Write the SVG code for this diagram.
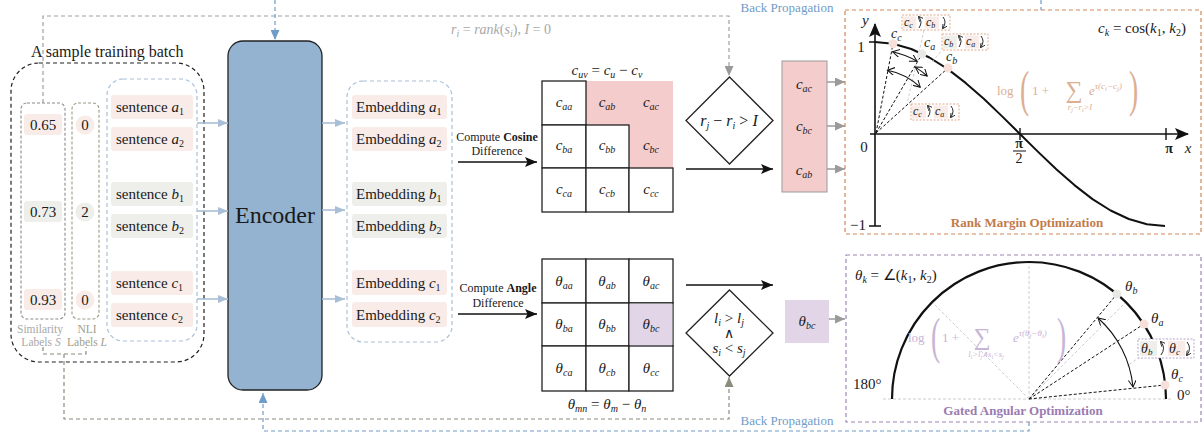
<svg xmlns="http://www.w3.org/2000/svg" width="1203" height="432" viewBox="0 0 1203 432">
<style>
text{font-family:"Liberation Serif","Times New Roman",serif;fill:#1a1a1a}
.i{font-style:italic}
.sb{font-size:10px}
.f15{font-size:15px}
.f14{font-size:14px}
.f12{font-size:12px}
.bgp{fill:#f9ece8}
.bgg{fill:#eeefea}
.cell{fill:#fff;stroke:#222;stroke-width:1.3}
.dashbox{fill:none;stroke-dasharray:4 3;stroke-width:1.2}
.encA{stroke:#a9bfd5;stroke-width:1.6;fill:none;marker-end:url(#aBlue)}
.blk{stroke:#111;stroke-width:1.5;fill:none;marker-end:url(#aBlk)}
.gry{stroke:#9a9a9a;stroke-width:1.5;fill:none;marker-end:url(#aGry)}
.lbox{fill:#fff;stroke:#d9956a;stroke-width:0.8;stroke-dasharray:2 1.5}
.lboxp{fill:#fff;stroke:#a58fbd;stroke-width:0.8;stroke-dasharray:2 1.5}
.cur{fill:none;stroke:#111;stroke-width:0.9;marker-end:url(#sm)}
.faint{fill:none;stroke:#c8c8c8;stroke-width:0.9;stroke-dasharray:3 2}
.rad{fill:none;stroke:#111;stroke-width:1;stroke-dasharray:3 2}
.dbl{fill:none;stroke:#111;stroke-width:1.1;marker-start:url(#op);marker-end:url(#op)}
.or{fill:#dcae92}
.pu{fill:#c8b5d6}
.gy{fill:#a8a8a8}
</style>
<defs>
<marker id="aBlue" markerWidth="10" markerHeight="8" refX="10" refY="4" orient="auto" markerUnits="userSpaceOnUse"><path d="M0,0 L10,4 L0,8 Z" fill="#a9bfd5"/></marker>
<marker id="aBlk" markerWidth="12" markerHeight="10" refX="12" refY="5" orient="auto" markerUnits="userSpaceOnUse"><path d="M0,0 L12,5 L0,10 L2.5,5 Z" fill="#111"/></marker>
<marker id="aGry" markerWidth="10" markerHeight="9" refX="10" refY="4.5" orient="auto" markerUnits="userSpaceOnUse"><path d="M0,0 L10,4.5 L0,9 Z" fill="#9a9a9a"/></marker>
<marker id="aOl" markerWidth="10" markerHeight="9" refX="10" refY="4.5" orient="auto" markerUnits="userSpaceOnUse"><path d="M0,0 L10,4.5 L0,9 Z" fill="#8c8c7e"/></marker>
<marker id="aDB" markerWidth="10" markerHeight="9" refX="10" refY="4.5" orient="auto" markerUnits="userSpaceOnUse"><path d="M0,0 L10,4.5 L0,9 Z" fill="#6f9cc8"/></marker>
<marker id="aAx" markerWidth="14" markerHeight="12" refX="13" refY="6" orient="auto" markerUnits="userSpaceOnUse"><path d="M0,0 L14,6 L0,12 L3,6 Z" fill="#111"/></marker>
<marker id="sm" markerWidth="5" markerHeight="5" refX="4" refY="2.5" orient="auto" markerUnits="userSpaceOnUse"><path d="M0,0 L5,2.5 L0,5" fill="none" stroke="#111" stroke-width="0.8"/></marker>
<marker id="op" markerWidth="8" markerHeight="8" refX="7" refY="4" orient="auto-start-reverse" markerUnits="userSpaceOnUse"><path d="M0,0 L7,4 L0,8" fill="none" stroke="#111" stroke-width="1"/></marker>
</defs>

<g id="batch">
<text x="31" y="57" style="font-size:16px">A sample training batch</text>
<rect x="11" y="63" width="193" height="299" rx="28" class="dashbox" stroke="#222"/>
</g>

<g id="similarity-labels">
<rect x="21" y="103" width="44" height="216" rx="6" fill="none" stroke="#8a8a8a" stroke-width="1.1" stroke-dasharray="3 2"/>
<rect x="24" y="114" width="38" height="21" rx="3" class="bgp"/>
<text x="43" y="130" class="f15" text-anchor="middle">0.65</text>
<rect x="24" y="201" width="38" height="21" rx="3" class="bgg"/>
<text x="43" y="217" class="f15" text-anchor="middle">0.73</text>
<rect x="24" y="289" width="38" height="21" rx="3" class="bgp"/>
<text x="43" y="305" class="f15" text-anchor="middle">0.93</text>
<text x="40" y="333" text-anchor="middle" class="gy" style="font-size:11.5px">Similarity</text>
<text x="41" y="346" text-anchor="middle" class="gy" style="font-size:11.5px">Labels <tspan class="i gy">S</tspan></text>
</g>

<g id="nli-labels">
<rect x="72" y="103" width="27" height="216" rx="6" fill="none" stroke="#9a9a82" stroke-width="1.1" stroke-dasharray="3 2"/>
<circle cx="85" cy="125" r="9.5" class="bgp"/>
<text x="85" y="130" class="f15" text-anchor="middle">0</text>
<circle cx="85" cy="212" r="9.5" class="bgg"/>
<text x="85" y="217" class="f15" text-anchor="middle">2</text>
<circle cx="85" cy="300" r="9.5" class="bgp"/>
<text x="85" y="305" class="f15" text-anchor="middle">0</text>
<text x="87" y="333" text-anchor="middle" style="font-size:11.5px;fill:#a0a08a">NLI</text>
<text x="87" y="346" text-anchor="middle" style="font-size:11.5px;fill:#a0a08a">Labels <tspan class="i" style="fill:#a0a08a">L</tspan></text>
</g>

<g id="sentences">
<rect x="107" y="79" width="90" height="262" rx="16" class="dashbox" stroke="#a9c0d8"/>
<rect x="111" y="95" width="82" height="24" rx="3" class="bgp"/>
<text x="116" y="112" class="f15">sentence <tspan class="i">a</tspan><tspan class="sb" dy="3">1</tspan></text>
<rect x="111" y="127" width="82" height="24" rx="3" class="bgp"/>
<text x="116" y="144" class="f15">sentence <tspan class="i">a</tspan><tspan class="sb" dy="3">2</tspan></text>
<rect x="111" y="182" width="82" height="24" rx="3" class="bgg"/>
<text x="116" y="199" class="f15">sentence <tspan class="i">b</tspan><tspan class="sb" dy="3">1</tspan></text>
<rect x="111" y="214" width="82" height="24" rx="3" class="bgg"/>
<text x="116" y="231" class="f15">sentence <tspan class="i">b</tspan><tspan class="sb" dy="3">2</tspan></text>
<rect x="111" y="271" width="82" height="24" rx="3" class="bgp"/>
<text x="116" y="288" class="f15">sentence <tspan class="i">c</tspan><tspan class="sb" dy="3">1</tspan></text>
<rect x="111" y="303" width="82" height="24" rx="3" class="bgp"/>
<text x="116" y="320" class="f15">sentence <tspan class="i">c</tspan><tspan class="sb" dy="3">2</tspan></text>
</g>

<g id="encoder">
<rect x="228" y="41" width="94" height="349" rx="15" fill="#93b3d1" stroke="#222" stroke-width="1.3"/>
<text x="275" y="223" text-anchor="middle" style="font-size:24px">Encoder</text>
</g>

<g id="embeddings">
<rect x="347" y="81" width="105" height="261" rx="16" class="dashbox" stroke="#a9c0d8"/>
<rect x="352" y="95" width="95" height="24" rx="3" class="bgp"/>
<text x="356" y="112" class="f15">Embedding <tspan class="i">a</tspan><tspan class="sb" dy="3">1</tspan></text>
<rect x="352" y="127" width="95" height="24" rx="3" class="bgp"/>
<text x="356" y="144" class="f15">Embedding <tspan class="i">a</tspan><tspan class="sb" dy="3">2</tspan></text>
<rect x="352" y="182" width="95" height="24" rx="3" class="bgg"/>
<text x="356" y="199" class="f15">Embedding <tspan class="i">b</tspan><tspan class="sb" dy="3">1</tspan></text>
<rect x="352" y="214" width="95" height="24" rx="3" class="bgg"/>
<text x="356" y="231" class="f15">Embedding <tspan class="i">b</tspan><tspan class="sb" dy="3">2</tspan></text>
<rect x="352" y="270" width="95" height="25" rx="3" class="bgp"/>
<text x="356" y="288" class="f15">Embedding <tspan class="i">c</tspan><tspan class="sb" dy="3">1</tspan></text>
<rect x="352" y="302" width="95" height="25" rx="3" class="bgp"/>
<text x="356" y="320" class="f15">Embedding <tspan class="i">c</tspan><tspan class="sb" dy="3">2</tspan></text>
</g>

<g id="cosine-label">
<text x="497" y="141" text-anchor="middle" class="f12">Compute <tspan font-weight="bold">Cosine</tspan></text>
<text x="497" y="155" text-anchor="middle" class="f12">Difference</text>
</g>

<g id="angle-label">
<text x="498" y="292" text-anchor="middle" class="f12">Compute <tspan font-weight="bold">Angle</tspan></text>
<text x="498" y="307" text-anchor="middle" class="f12">Difference</text>
</g>

<g id="cosine-matrix">
<text x="607" y="75" text-anchor="middle" class="f15"><tspan class="i">c</tspan><tspan class="i sb" dy="3">uv</tspan><tspan dy="-3"> = </tspan><tspan class="i">c</tspan><tspan class="i sb" dy="3">u</tspan><tspan dy="-3"> − </tspan><tspan class="i">c</tspan><tspan class="i sb" dy="3">v</tspan></text>
<path d="M586,81 H673 V168 H629 V125 H586 Z" fill="#f4cccc"/>
<rect x="542" y="81" width="44" height="44" class="cell"/>
<rect x="542" y="125" width="44" height="43" class="cell"/>
<rect x="586" y="125" width="43" height="43" class="cell"/>
<rect x="542" y="168" width="44" height="44" class="cell"/>
<rect x="586" y="168" width="43" height="44" class="cell"/>
<rect x="629" y="168" width="44" height="44" class="cell"/>
<g text-anchor="middle">
<text x="564" y="107" class="f15"><tspan class="i">c</tspan><tspan class="i sb" dy="3">aa</tspan></text>
<text x="607" y="107" class="f15"><tspan class="i">c</tspan><tspan class="i sb" dy="3">ab</tspan></text>
<text x="651" y="107" class="f15"><tspan class="i">c</tspan><tspan class="i sb" dy="3">ac</tspan></text>
<text x="564" y="150" class="f15"><tspan class="i">c</tspan><tspan class="i sb" dy="3">ba</tspan></text>
<text x="607" y="150" class="f15"><tspan class="i">c</tspan><tspan class="i sb" dy="3">bb</tspan></text>
<text x="651" y="150" class="f15"><tspan class="i">c</tspan><tspan class="i sb" dy="3">bc</tspan></text>
<text x="564" y="194" class="f15"><tspan class="i">c</tspan><tspan class="i sb" dy="3">ca</tspan></text>
<text x="607" y="194" class="f15"><tspan class="i">c</tspan><tspan class="i sb" dy="3">cb</tspan></text>
<text x="651" y="194" class="f15"><tspan class="i">c</tspan><tspan class="i sb" dy="3">cc</tspan></text>
</g>
</g>

<g id="angle-matrix">
<rect x="542" y="259" width="44" height="44" class="cell"/>
<rect x="586" y="259" width="43" height="44" class="cell"/>
<rect x="629" y="259" width="44" height="44" class="cell"/>
<rect x="542" y="303" width="44" height="43" class="cell"/>
<rect x="586" y="303" width="43" height="43" class="cell"/>
<rect x="629" y="303" width="44" height="43" class="cell"/>
<rect x="542" y="346" width="44" height="45" class="cell"/>
<rect x="586" y="346" width="43" height="45" class="cell"/>
<rect x="629" y="346" width="44" height="45" class="cell"/>
<rect x="629.7" y="303.7" width="42.6" height="41.6" fill="#e1d5e7"/>
<g text-anchor="middle">
<text x="564" y="286" class="f15"><tspan class="i">θ</tspan><tspan class="i sb" dy="3">aa</tspan></text>
<text x="607" y="286" class="f15"><tspan class="i">θ</tspan><tspan class="i sb" dy="3">ab</tspan></text>
<text x="651" y="286" class="f15"><tspan class="i">θ</tspan><tspan class="i sb" dy="3">ac</tspan></text>
<text x="564" y="329" class="f15"><tspan class="i">θ</tspan><tspan class="i sb" dy="3">ba</tspan></text>
<text x="607" y="329" class="f15"><tspan class="i">θ</tspan><tspan class="i sb" dy="3">bb</tspan></text>
<text x="651" y="329" class="f15"><tspan class="i">θ</tspan><tspan class="i sb" dy="3">bc</tspan></text>
<text x="564" y="373" class="f15"><tspan class="i">θ</tspan><tspan class="i sb" dy="3">ca</tspan></text>
<text x="607" y="373" class="f15"><tspan class="i">θ</tspan><tspan class="i sb" dy="3">cb</tspan></text>
<text x="651" y="373" class="f15"><tspan class="i">θ</tspan><tspan class="i sb" dy="3">cc</tspan></text>
</g>
<text x="607" y="409" text-anchor="middle" class="f15"><tspan class="i">θ</tspan><tspan class="i sb" dy="3">mn</tspan><tspan dy="-3"> = </tspan><tspan class="i">θ</tspan><tspan class="i sb" dy="3">m</tspan><tspan dy="-3"> − </tspan><tspan class="i">θ</tspan><tspan class="i sb" dy="3">n</tspan></text>
</g>

<g id="rank-condition">
<path d="M729.5,77 L773,120.5 L729.5,164 L686,120.5 Z" fill="#fff" stroke="#222" stroke-width="1.3"/>
<text x="729" y="126" text-anchor="middle" style="font-size:16px"><tspan class="i">r</tspan><tspan class="i sb" dy="3">j</tspan><tspan dy="-3"> − </tspan><tspan class="i">r</tspan><tspan class="i sb" dy="3">i</tspan><tspan dy="-3"> &gt; </tspan><tspan class="i">I</tspan></text>
</g>

<g id="gate-condition">
<path d="M729.5,290 L773,333 L729.5,376 L686,333 Z" fill="#fff" stroke="#222" stroke-width="1.3"/>
<text x="729" y="323" text-anchor="middle" class="f15"><tspan class="i">l</tspan><tspan class="i sb" dy="3">i</tspan><tspan dy="-3"> &gt; </tspan><tspan class="i">l</tspan><tspan class="i sb" dy="3">j</tspan></text>
<text x="729" y="338" text-anchor="middle" class="f14">∧</text>
<text x="729" y="353" text-anchor="middle" class="f15"><tspan class="i">s</tspan><tspan class="i sb" dy="3">i</tspan><tspan dy="-3"> &lt; </tspan><tspan class="i">s</tspan><tspan class="i sb" dy="3">j</tspan></text>
</g>

<g id="selected-cosine">
<rect x="782" y="61" width="45" height="131" fill="#f4cccc" stroke="#9a9a9a" stroke-width="1"/>
<text x="804" y="89" text-anchor="middle" class="f15"><tspan class="i">c</tspan><tspan class="i sb" dy="3">ac</tspan></text>
<text x="804" y="131" text-anchor="middle" class="f15"><tspan class="i">c</tspan><tspan class="i sb" dy="3">bc</tspan></text>
<text x="804" y="175" text-anchor="middle" class="f15"><tspan class="i">c</tspan><tspan class="i sb" dy="3">ab</tspan></text>
</g>

<g id="selected-angle">
<rect x="785" y="300" width="44" height="43" fill="#e1d5e7"/>
<text x="807" y="326" text-anchor="middle" class="f15"><tspan class="i">θ</tspan><tspan class="i sb" dy="3">bc</tspan></text>
</g>

<g id="connectors">
<path class="encA" d="M197,123 H228"/>
<path class="encA" d="M197,211 H228"/>
<path class="encA" d="M197,299 H228"/>
<path class="encA" d="M322,123 H345"/>
<path class="encA" d="M322,210 H345"/>
<path class="encA" d="M322,299 H345"/>
<path class="blk" d="M458,162 H537"/>
<path class="blk" d="M458,314 H537"/>
<path class="blk" d="M686,169 H773"/>
<path class="blk" d="M686,285 H773"/>
<path class="gry" d="M827,82 H845"/>
<path class="gry" d="M827,126 H845"/>
<path class="gry" d="M827,169 H845"/>
<path class="gry" d="M829,319 H845"/>
<path d="M43,103 V16 H729 V76" fill="none" stroke="#a0a0a0" stroke-width="1.2" stroke-dasharray="4 3" marker-end="url(#aGry)"/>
<path d="M43,347 V354 H86 V347" fill="none" stroke="#8c8c7e" stroke-width="1.2" stroke-dasharray="4 3"/>
<path d="M64,354 V419 H729 V377" fill="none" stroke="#8c8c7e" stroke-width="1.2" stroke-dasharray="4 3" marker-end="url(#aOl)"/>
<path d="M275,0 V40" fill="none" stroke="#6f9cc8" stroke-width="1.2" stroke-dasharray="4 3" marker-end="url(#aDB)"/>
<path d="M1041,0 V10" fill="none" stroke="#6f9cc8" stroke-width="1.2" stroke-dasharray="4 3"/>
<path d="M1029,422 V431 H263 V393" fill="none" stroke="#6f9cc8" stroke-width="1.2" stroke-dasharray="4 3" marker-end="url(#aDB)"/>
<text x="501" y="34" text-anchor="middle" class="gy" style="font-size:14px"><tspan class="i gy">r</tspan><tspan class="i sb gy" dy="3">i</tspan><tspan dy="-3" class="gy"> = </tspan><tspan class="i gy">rank</tspan><tspan class="gy">(</tspan><tspan class="i gy">s</tspan><tspan class="i sb gy" dy="3">i</tspan><tspan dy="-3" class="gy">), </tspan><tspan class="i gy">I</tspan><tspan class="gy"> = 0</tspan></text>
<text x="787" y="12" text-anchor="middle" style="font-size:13px;fill:#6f9cc8">Back Propagation</text>
<text x="787" y="425" text-anchor="middle" style="font-size:13px;fill:#6f9cc8">Back Propagation</text>
</g>

<g id="rank-margin-optimization">
<rect x="845" y="10" width="356" height="224" fill="none" stroke="#d0875a" stroke-width="1.2" stroke-dasharray="4 3"/>
<path d="M875,226 V24" fill="none" stroke="#111" stroke-width="1.6" marker-end="url(#aAx)"/>
<path d="M870,134 H1188" fill="none" stroke="#111" stroke-width="1.6" marker-end="url(#aAx)"/>
<path d="M869,226 H881 M869,42 H875 M1020,128 V140 M1166,128 V140" stroke="#111" stroke-width="1.4"/>
<text x="862" y="25" class="i f15">y</text>
<text x="861" y="52" text-anchor="middle" class="f15">1</text>
<text x="864" y="152" text-anchor="middle" class="f15">0</text>
<text x="858" y="230" text-anchor="middle" class="f15">−1</text>
<text x="1019" y="148" text-anchor="middle" class="f14" font-weight="bold">π</text>
<path d="M1013,151 H1026" stroke="#111" stroke-width="1"/>
<text x="1019" y="163" text-anchor="middle" class="f14">2</text>
<text x="1169" y="153" text-anchor="middle" class="f14" font-weight="bold">π</text>
<text x="1188" y="153" text-anchor="middle" class="i f15">x</text>
<text x="1098" y="33" class="f15"><tspan class="i">c</tspan><tspan class="i sb" dy="3">k</tspan><tspan dy="-3"> = cos(</tspan><tspan class="i">k</tspan><tspan class="sb" dy="3">1</tspan><tspan dy="-3">, </tspan><tspan class="i">k</tspan><tspan class="sb" dy="3">2</tspan><tspan dy="-3">)</tspan></text>
<polyline points="875,42 893.1,43.8 911.3,49 929.4,57.5 947.5,68.9 965.6,82.9 983.8,98.8 1001.9,116.1 1020,134 1038.1,151.9 1056.3,169.2 1074.4,185.1 1092.5,199.1 1110.6,210.5 1128.8,219 1146.9,224.2 1165,226" fill="none" stroke="#111" stroke-width="2" stroke-linejoin="round"/>
<path class="rad" d="M876,133 L893,44 M876,133 L922,54 M876,133 L948,68"/>
<path class="faint" d="M924,30 L907,104 M944,48 L932,62"/>
<path class="dbl" d="M892.5,51.8 A84,84 0 0 1 917,61.3"/>
<path class="dbl" d="M887.4,70.2 A65,65 0 0 1 920.2,87.2"/>
<path class="dbl" d="M915.2,67.1 A78,78 0 0 1 927.2,76"/>
<circle cx="893" cy="43.8" r="4.5" fill="#f7e0da"/>
<circle cx="922" cy="54" r="4.5" fill="#e8e9e4"/>
<circle cx="948" cy="68" r="4.5" fill="#f7e0da"/>
<text x="891" y="38" class="f14"><tspan class="i">c</tspan><tspan class="i sb" dy="3">c</tspan></text>
<text x="924" y="47" class="f14"><tspan class="i">c</tspan><tspan class="i sb" dy="3">a</tspan></text>
<text x="946" y="61" class="f14"><tspan class="i">c</tspan><tspan class="i sb" dy="3">b</tspan></text>
<rect x="902" y="15" width="48" height="15" class="lbox"/>
<rect x="903" y="16.5" width="13" height="12" class="bgp"/>
<text x="904" y="26" class="f12"><tspan class="i">c</tspan><tspan class="i" style="font-size:8px" dy="2">c</tspan></text>
<path class="cur" d="M919,28 Q923,22 919,17"/>
<rect x="925" y="16.5" width="14" height="12" class="bgp"/>
<text x="926" y="26" class="f12"><tspan class="i">c</tspan><tspan class="i" style="font-size:8px" dy="2">b</tspan></text>
<path class="cur" d="M943,17 Q947,22 943,28"/>
<rect x="942" y="34" width="46" height="16" class="lbox"/>
<rect x="943" y="35.5" width="14" height="13" class="bgg"/>
<text x="944" y="45" class="f12"><tspan class="i">c</tspan><tspan class="i" style="font-size:8px" dy="2">b</tspan></text>
<path class="cur" d="M959,47 Q963,41 959,36"/>
<rect x="965" y="35.5" width="14" height="13" class="bgp"/>
<text x="966" y="45" class="f12"><tspan class="i">c</tspan><tspan class="i" style="font-size:8px" dy="2">a</tspan></text>
<path class="cur" d="M981,36 Q985,41 981,47"/>
<rect x="911" y="104" width="48" height="16" class="lbox"/>
<rect x="912" y="105.5" width="14" height="13" class="bgp"/>
<text x="913" y="115" class="f12"><tspan class="i">c</tspan><tspan class="i" style="font-size:8px" dy="2">c</tspan></text>
<path class="cur" d="M928,117 Q932,111 928,106"/>
<rect x="934" y="105.5" width="14" height="13" class="bgp"/>
<text x="935" y="115" class="f12"><tspan class="i">c</tspan><tspan class="i" style="font-size:8px" dy="2">a</tspan></text>
<path class="cur" d="M951,106 Q955,111 951,117"/>
<text x="997" y="95" class="or" style="font-size:13px">log</text>
<text transform="translate(1020,106) scale(0.55,1)" class="or" style="font-size:50px">(</text>
<text x="1032" y="95" class="or" style="font-size:13px">1 +</text>
<text x="1074" y="98" text-anchor="middle" class="or" style="font-size:24px">∑</text>
<text x="1089" y="95" class="or" style="font-size:13px"><tspan class="i or">e</tspan><tspan class="i or" dy="-6" style="font-size:9px">τ(c</tspan><tspan class="i or" dy="2" style="font-size:7px">i</tspan><tspan class="i or" dy="-2" style="font-size:9px">−c</tspan><tspan class="i or" dy="2" style="font-size:7px">j</tspan><tspan class="i or" dy="-2" style="font-size:9px">)</tspan></text>
<text x="1080" y="110" text-anchor="middle" class="i or" style="font-size:8.5px">r<tspan class="or" style="font-size:6px" dy="1.5">j</tspan><tspan class="or" dy="-1.5">−r</tspan><tspan class="or" style="font-size:6px" dy="1.5">i</tspan><tspan class="or" dy="-1.5">&gt;I</tspan></text>
<text transform="translate(1129,106) scale(0.55,1)" class="or" style="font-size:50px">)</text>
<text x="1027" y="227" text-anchor="middle" font-weight="bold" style="font-size:13px;fill:#c27b48">Rank Margin Optimization</text>
</g>

<g id="gated-angular-optimization">
<rect x="846" y="255" width="355" height="167" fill="none" stroke="#9d85b5" stroke-width="1.2" stroke-dasharray="4 3"/>
<path class="faint" d="M883,399 H1173 M1029,399 V262 M1029,399 L932,302 M1029,399 L1126,302 M1140,357 L1127,366"/>
<path d="M892,399 A137,137 0 0 1 1166,399" fill="none" stroke="#111" stroke-width="2.2"/>
<path class="rad" d="M1029,399 L1117,294 M1029,399 L1144,324 M1029,399 L1165,385"/>
<path class="dbl" d="M1098,318 A106,106 0 0 1 1133,387"/>
<circle cx="1117" cy="294" r="4.5" fill="#e8e9e4"/>
<circle cx="1144" cy="324" r="4.5" fill="#f7e0da"/>
<circle cx="1165" cy="385" r="4.5" fill="#f7e0da"/>
<text x="1125" y="291" class="f15"><tspan class="i">θ</tspan><tspan class="i sb" dy="3">b</tspan></text>
<text x="1151" y="323" class="f15"><tspan class="i">θ</tspan><tspan class="i sb" dy="3">a</tspan></text>
<text x="1171" y="379" class="f15"><tspan class="i">θ</tspan><tspan class="i sb" dy="3">c</tspan></text>
<text x="1177" y="400" class="f15">0°</text>
<text x="853" y="389" class="f15">180°</text>
<text x="855" y="280" class="f15"><tspan class="i">θ</tspan><tspan class="i sb" dy="3">k</tspan><tspan dy="-3"> = ∠(</tspan><tspan class="i">k</tspan><tspan class="sb" dy="3">1</tspan><tspan dy="-3">, </tspan><tspan class="i">k</tspan><tspan class="sb" dy="3">2</tspan><tspan dy="-3">)</tspan></text>
<rect x="1138" y="339" width="56" height="19" class="lboxp"/>
<rect x="1140" y="341" width="17" height="15" class="bgg"/>
<text x="1141" y="353" class="f14"><tspan class="i">θ</tspan><tspan class="i" style="font-size:9px" dy="2">b</tspan></text>
<path class="cur" d="M1161,355 Q1166,348 1161,342"/>
<rect x="1168" y="341" width="17" height="15" class="bgp"/>
<text x="1169" y="353" class="f14"><tspan class="i">θ</tspan><tspan class="i" style="font-size:9px" dy="2">c</tspan></text>
<path class="cur" d="M1187,342 Q1192,348 1187,355"/>
<text x="908" y="342" class="pu" style="font-size:13px">log</text>
<text transform="translate(931,353) scale(0.55,1)" class="pu" style="font-size:50px">(</text>
<text x="942" y="342" class="pu" style="font-size:13px">1 +</text>
<text x="982" y="345" text-anchor="middle" class="pu" style="font-size:24px">∑</text>
<text x="1013" y="342" class="pu" style="font-size:13px"><tspan class="i pu">e</tspan><tspan class="i pu" dy="-6" style="font-size:9px">τ(θ</tspan><tspan class="i pu" dy="2" style="font-size:7px">j</tspan><tspan class="i pu" dy="-2" style="font-size:9px">−θ</tspan><tspan class="i pu" dy="2" style="font-size:7px">i</tspan><tspan class="i pu" dy="-2" style="font-size:9px">)</tspan></text>
<text x="986" y="357" text-anchor="middle" class="i pu" style="font-size:8.5px">l<tspan class="pu" style="font-size:6px" dy="1.5">i</tspan><tspan class="pu" dy="-1.5">&gt;l</tspan><tspan class="pu" style="font-size:6px" dy="1.5">j</tspan><tspan class="pu" dy="-1.5">∧s</tspan><tspan class="pu" style="font-size:6px" dy="1.5">i</tspan><tspan class="pu" dy="-1.5">&lt;s</tspan><tspan class="pu" style="font-size:6px" dy="1.5">j</tspan></text>
<text transform="translate(1057,353) scale(0.55,1)" class="pu" style="font-size:50px">)</text>
<text x="1023" y="415" text-anchor="middle" font-weight="bold" style="font-size:13px;fill:#9b7bb0">Gated Angular Optimization</text>
</g>
</svg>
